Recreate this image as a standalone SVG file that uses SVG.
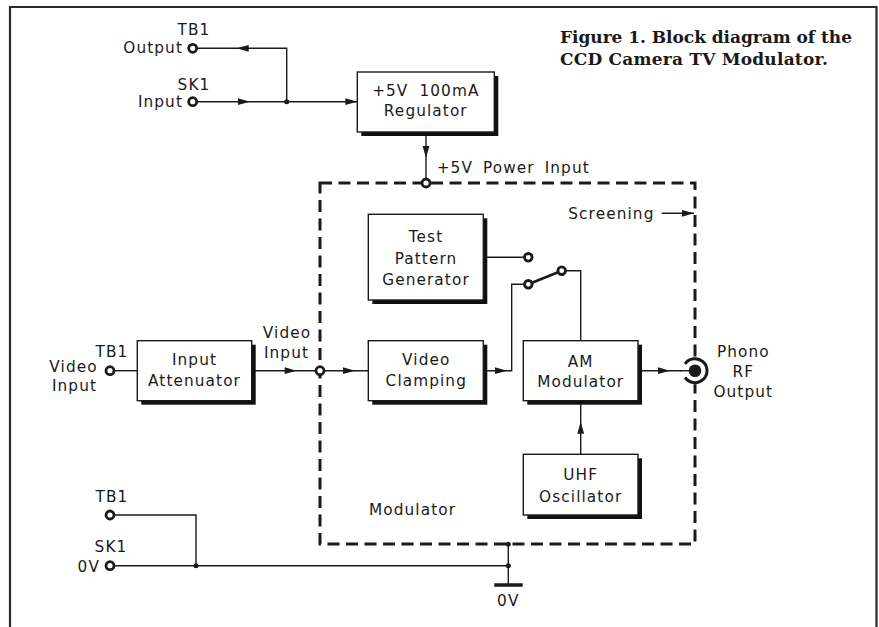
<svg xmlns="http://www.w3.org/2000/svg" xmlns:xlink="http://www.w3.org/1999/xlink" width="879" height="627" viewBox="0 0 879 627">
  <style>
    .t { font-family: "DejaVu Sans", "Liberation Sans", sans-serif; font-size: 15.3px; letter-spacing: 1.1px; fill: #1a1a1a; }
    .m { text-anchor: middle; }
    .e { text-anchor: end; }
    .title { font-family: "DejaVu Serif", "Liberation Serif", serif; font-weight: bold; font-size: 17px; fill: #1a1a1a; }
    .ln { fill: none; stroke: #1a1a1a; stroke-width: 1.4; }
    .box { fill: #fff; stroke: #1a1a1a; stroke-width: 1.4; }
    .sh { fill: #111; }
    .term { fill: #fff; stroke: #1a1a1a; stroke-width: 2.8; }
    .dot { fill: #1a1a1a; }
    .screen { fill: none; stroke: #1a1a1a; stroke-width: 3; stroke-dasharray: 12 6.5; }
  </style>
  <defs>
    <path id="ah" d="M0,0 L-12,-3.4 L-12,3.4 Z" fill="#1a1a1a"/>
  </defs>
  <rect width="879" height="627" fill="#fff"/>
  <!-- outer frame -->
  <path d="M10,632 V7 H876.5 V632" fill="none" stroke="#2a2a2a" stroke-width="2.2"/>

  <!-- title -->
  <text class="title" x="560" y="43.3" textLength="292" lengthAdjust="spacing">Figure 1. Block diagram of the</text>
  <text class="title" x="560" y="65.3" textLength="268" lengthAdjust="spacing">CCD Camera TV Modulator.</text>

  <!-- screening (dashed) -->
  <g id="screening">
    <path class="screen" d="M320,183 H695 V544 H320 Z"/>
    <text class="t" x="568.3" y="219.3">Screening</text>
    <text class="t" x="369" y="515">Modulator</text>
  </g>

  <!-- connectors -->
  <g id="connectors">
    <path class="ln" d="M192.7,48.3 H286.7 V101.7"/>
    <path class="ln" d="M192.7,101.7 H357.3"/>
    <path class="ln" d="M426,132 V183"/>
    <path class="ln" d="M110,370.7 H137.3"/>
    <path class="ln" d="M251.7,370.7 H368.3"/>
    <path class="ln" d="M483.3,370.7 H511.7 V284.3 H528.3"/>
    <path class="ln" d="M483.3,257.3 H528.3"/>
    <path d="M528.3,284.3 L561.7,270.7" fill="none" stroke="#1a1a1a" stroke-width="2.6"/>
    <path class="ln" d="M561.7,270.7 H580.7 V340.7"/>
    <path class="ln" d="M638,370.7 H695"/>
    <path class="ln" d="M580.7,454.3 V400.7"/>
    <path class="ln" d="M661.7,213.3 H694"/>
    <path class="ln" d="M110,515 H196 V565.7"/>
    <path class="ln" d="M110,565.7 H508.3"/>
    <path class="ln" d="M508.3,544.3 V585"/>
    <path d="M494.3,585 H522.7" fill="none" stroke="#1a1a1a" stroke-width="3.5"/>
    <!-- arrowheads -->
    <use xlink:href="#ah" href="#ah" transform="translate(236.7,48.3) rotate(180)"/>
    <use xlink:href="#ah" href="#ah" transform="translate(250,101.7)"/>
    <use xlink:href="#ah" href="#ah" transform="translate(357.3,101.7)"/>
    <use xlink:href="#ah" href="#ah" transform="translate(426,158) rotate(90)"/>
    <use xlink:href="#ah" href="#ah" transform="translate(296.7,370.7)"/>
    <use xlink:href="#ah" href="#ah" transform="translate(355,370.7)"/>
    <use xlink:href="#ah" href="#ah" transform="translate(507,370.7)"/>
    <use xlink:href="#ah" href="#ah" transform="translate(670,370.7)"/>
    <use xlink:href="#ah" href="#ah" transform="translate(580.7,421.7) rotate(-90)"/>
    <use xlink:href="#ah" href="#ah" transform="translate(694,213.3)"/>
    <!-- junction dots -->
    <circle class="dot" cx="286.7" cy="101.7" r="2.5"/>
    <circle class="dot" cx="196" cy="565.7" r="2.5"/>
    <circle class="dot" cx="508.3" cy="565.7" r="2.5"/>
    <circle class="dot" cx="508.3" cy="544.3" r="2.5"/>
    <!-- switch contacts -->
    <circle class="term" cx="528.3" cy="257.3" r="3.8"/>
    <circle class="term" cx="528.3" cy="284.3" r="3.8"/>
    <circle class="term" cx="561.7" cy="270.7" r="3.8"/>
    <!-- on-screen connection points -->
    <circle class="term" cx="426" cy="183" r="4"/>
    <circle class="term" cx="320" cy="370.7" r="4"/>
    <text class="t" x="436.7" y="172.7" style="word-spacing:4px">+5V Power Input</text>
    <text class="t m" x="287" y="338.3">Video</text>
    <text class="t m" x="286.5" y="358.3">Input</text>
    <text class="t" x="508.3" y="605.7" text-anchor="middle">0V</text>
  </g>

  <!-- terminals -->
  <g id="tb1-output">
    <circle class="term" cx="192.7" cy="48.3" r="4"/>
    <text class="t m" x="194" y="35">TB1</text>
    <text class="t e" x="183" y="53.3">Output</text>
  </g>
  <g id="sk1-input">
    <circle class="term" cx="192.7" cy="101.7" r="4"/>
    <text class="t m" x="194" y="90">SK1</text>
    <text class="t e" x="183" y="107.3">Input</text>
  </g>
  <g id="tb1-video">
    <circle class="term" cx="110" cy="370.7" r="4"/>
    <text class="t m" x="112" y="357.3">TB1</text>
    <text class="t m" x="73.5" y="371.7">Video</text>
    <text class="t m" x="74.5" y="390.7">Input</text>
  </g>
  <g id="tb1-0v">
    <circle class="term" cx="110" cy="515" r="4"/>
    <text class="t m" x="112" y="502.3">TB1</text>
  </g>
  <g id="sk1-0v">
    <circle class="term" cx="110" cy="565.7" r="4"/>
    <text class="t m" x="111" y="552.3">SK1</text>
    <text class="t e" x="100" y="571.7">0V</text>
  </g>

  <!-- blocks -->
  <g id="regulator">
    <rect class="sh" x="361.3" y="76" width="137" height="60"/>
    <rect class="box" x="357.3" y="72" width="137" height="60"/>
    <text class="t m" x="425.8" y="95.7" style="word-spacing:5px">+5V 100mA</text>
    <text class="t m" x="425.8" y="116.3">Regulator</text>
  </g>
  <g id="test-pattern">
    <rect class="sh" x="372.3" y="218.3" width="115" height="85.7"/>
    <rect class="box" x="368.3" y="214.3" width="115" height="85.7"/>
    <text class="t m" x="426" y="242.3">Test</text>
    <text class="t m" x="426" y="264">Pattern</text>
    <text class="t m" x="426" y="285">Generator</text>
  </g>
  <g id="input-attenuator">
    <rect class="sh" x="141.3" y="344.7" width="114.4" height="60"/>
    <rect class="box" x="137.3" y="340.7" width="114.4" height="60"/>
    <text class="t m" x="194.5" y="365">Input</text>
    <text class="t m" x="194.5" y="386">Attenuator</text>
  </g>
  <g id="video-clamping">
    <rect class="sh" x="372.3" y="344.7" width="115" height="60"/>
    <rect class="box" x="368.3" y="340.7" width="115" height="60"/>
    <text class="t m" x="426.3" y="365">Video</text>
    <text class="t m" x="426.3" y="385.7">Clamping</text>
  </g>
  <g id="am-modulator">
    <rect class="sh" x="527.3" y="344.7" width="114.7" height="60"/>
    <rect class="box" x="523.3" y="340.7" width="114.7" height="60"/>
    <text class="t m" x="580.7" y="366.7">AM</text>
    <text class="t m" x="580.7" y="387.3">Modulator</text>
  </g>
  <g id="uhf-oscillator">
    <rect class="sh" x="527.3" y="458.3" width="114.7" height="60.7"/>
    <rect class="box" x="523.3" y="454.3" width="114.7" height="60.7"/>
    <text class="t m" x="580.7" y="480">UHF</text>
    <text class="t m" x="580.7" y="501.7">Oscillator</text>
  </g>
  <g id="phono-output">
    <circle cx="695" cy="370.7" r="13.5" fill="#fff"/>
    <path d="M685.05,364 A12,12 0 1 1 685.05,377.4" fill="none" stroke="#1a1a1a" stroke-width="3"/>
    <path class="ln" d="M680,370.7 H695"/>
    <circle class="dot" cx="695" cy="370.7" r="6.3"/>
    <text class="t m" x="743.3" y="356.7">Phono</text>
    <text class="t m" x="743.3" y="377.3">RF</text>
    <text class="t m" x="743.3" y="397.3">Output</text>
  </g>
</svg>
